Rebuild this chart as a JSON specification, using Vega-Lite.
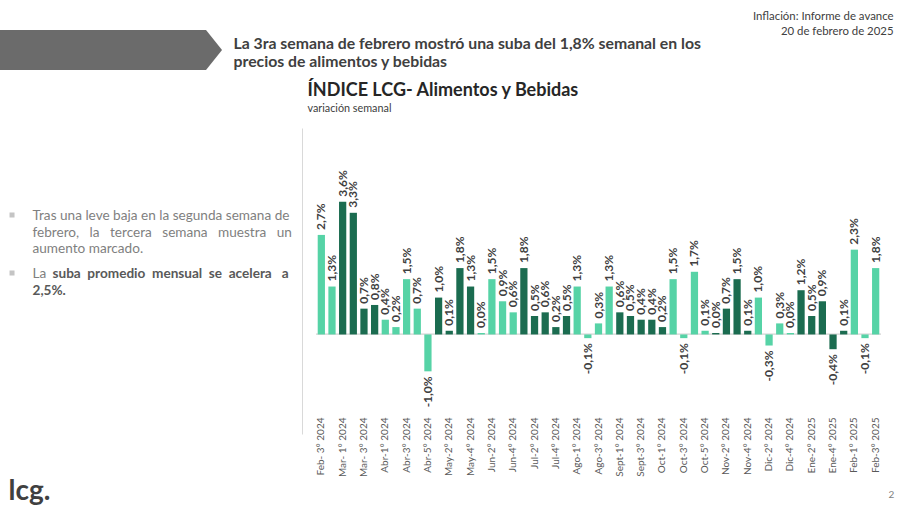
{
  "$schema": "https://vega.github.io/schema/vega-lite/v6.json",
  "width": 565,
  "height": 306,
  "autosize": {"type": "none"},
  "padding": {"left": 316, "top": 128, "right": 19, "bottom": 72},
  "background": "white",
  "config": {
    "view": {"stroke": null},
    "font": "Lato",
    "axis": {"domain": false, "ticks": false, "labels": false, "grid": false},
    "locale": {"number": {"decimal": ",", "thousands": ".", "grouping": [3], "currency": ["$", ""], "minus": "-"}}
  },
  "data": {
    "values": [
      {"cat": "Feb- 3° 2024", "v": 0.027, "g": "claro"},
      {"cat": "Feb- 4° 2024", "v": 0.013, "g": "claro"},
      {"cat": "Mar- 1° 2024", "v": 0.036, "g": "oscuro"},
      {"cat": "Mar- 2° 2024", "v": 0.033, "g": "oscuro"},
      {"cat": "Mar- 3° 2024", "v": 0.007, "g": "oscuro"},
      {"cat": "Mar- 4° 2024", "v": 0.008, "g": "oscuro"},
      {"cat": "Abr-1° 2024", "v": 0.004, "g": "claro"},
      {"cat": "Abr-2° 2024", "v": 0.002, "g": "claro"},
      {"cat": "Abr-3° 2024", "v": 0.015, "g": "claro"},
      {"cat": "Abr-4° 2024", "v": 0.007, "g": "claro"},
      {"cat": "Abr-5° 2024", "v": -0.010, "g": "claro"},
      {"cat": "May-1° 2024", "v": 0.010, "g": "oscuro"},
      {"cat": "May-2° 2024", "v": 0.001, "g": "oscuro"},
      {"cat": "May-3° 2024", "v": 0.018, "g": "oscuro"},
      {"cat": "May-4° 2024", "v": 0.013, "g": "oscuro"},
      {"cat": "Jun-1° 2024", "v": 0.0004, "g": "claro"},
      {"cat": "Jun-2° 2024", "v": 0.015, "g": "claro"},
      {"cat": "Jun-3° 2024", "v": 0.009, "g": "claro"},
      {"cat": "Jun-4° 2024", "v": 0.006, "g": "claro"},
      {"cat": "Jul-1° 2024", "v": 0.018, "g": "oscuro"},
      {"cat": "Jul-2° 2024", "v": 0.005, "g": "oscuro"},
      {"cat": "Jul-3° 2024", "v": 0.006, "g": "oscuro"},
      {"cat": "Jul-4° 2024", "v": 0.002, "g": "oscuro"},
      {"cat": "Jul-5° 2024", "v": 0.005, "g": "oscuro"},
      {"cat": "Ago-1° 2024", "v": 0.013, "g": "claro"},
      {"cat": "Ago-2° 2024", "v": -0.001, "g": "claro"},
      {"cat": "Ago-3° 2024", "v": 0.003, "g": "claro"},
      {"cat": "Ago-4° 2024", "v": 0.013, "g": "claro"},
      {"cat": "Sept-1° 2024", "v": 0.006, "g": "oscuro"},
      {"cat": "Sept-2° 2024", "v": 0.005, "g": "oscuro"},
      {"cat": "Sept-3° 2024", "v": 0.004, "g": "oscuro"},
      {"cat": "Sept-4° 2024", "v": 0.004, "g": "oscuro"},
      {"cat": "Oct-1° 2024", "v": 0.002, "g": "oscuro"},
      {"cat": "Oct-2° 2024", "v": 0.015, "g": "claro"},
      {"cat": "Oct-3° 2024", "v": -0.001, "g": "claro"},
      {"cat": "Oct-4° 2024", "v": 0.017, "g": "claro"},
      {"cat": "Oct-5° 2024", "v": 0.001, "g": "claro"},
      {"cat": "Nov-1° 2024", "v": 0.0004, "g": "oscuro"},
      {"cat": "Nov-2° 2024", "v": 0.007, "g": "oscuro"},
      {"cat": "Nov-3° 2024", "v": 0.015, "g": "oscuro"},
      {"cat": "Nov-4° 2024", "v": 0.001, "g": "oscuro"},
      {"cat": "Dic-1° 2024", "v": 0.010, "g": "claro"},
      {"cat": "Dic-2° 2024", "v": -0.003, "g": "claro"},
      {"cat": "Dic-3° 2024", "v": 0.003, "g": "claro"},
      {"cat": "Dic-4° 2024", "v": 0.0004, "g": "claro"},
      {"cat": "Ene-1° 2025", "v": 0.012, "g": "oscuro"},
      {"cat": "Ene-2° 2025", "v": 0.005, "g": "oscuro"},
      {"cat": "Ene-3° 2025", "v": 0.009, "g": "oscuro"},
      {"cat": "Ene-4° 2025", "v": -0.004, "g": "oscuro"},
      {"cat": "Ene-5° 2025", "v": 0.001, "g": "oscuro"},
      {"cat": "Feb-1° 2025", "v": 0.023, "g": "claro"},
      {"cat": "Feb-2° 2025", "v": -0.001, "g": "claro"},
      {"cat": "Feb-3° 2025", "v": 0.018, "g": "claro"}
    ]
  },
  "resolve": {"axis": {"x": "independent", "y": "independent"}},
  "layer": [
    {
      "mark": {"type": "rule", "color": "#dedede", "strokeWidth": 1},
      "encoding": {"y": {"datum": 0, "type": "quantitative", "axis": null}}
    },
    {
      "mark": {"type": "bar"},
      "encoding": {
        "x": {
          "field": "cat", "type": "nominal", "sort": null,
          "scale": {
            "paddingInner": 0.32, "paddingOuter": 0.16,
            "domain": ["Feb- 3° 2024","Feb- 4° 2024","Mar- 1° 2024","Mar- 2° 2024","Mar- 3° 2024","Mar- 4° 2024","Abr-1° 2024","Abr-2° 2024","Abr-3° 2024","Abr-4° 2024","Abr-5° 2024","May-1° 2024","May-2° 2024","May-3° 2024","May-4° 2024","Jun-1° 2024","Jun-2° 2024","Jun-3° 2024","Jun-4° 2024","Jul-1° 2024","Jul-2° 2024","Jul-3° 2024","Jul-4° 2024","Jul-5° 2024","Ago-1° 2024","Ago-2° 2024","Ago-3° 2024","Ago-4° 2024","Sept-1° 2024","Sept-2° 2024","Sept-3° 2024","Sept-4° 2024","Oct-1° 2024","Oct-2° 2024","Oct-3° 2024","Oct-4° 2024","Oct-5° 2024","Nov-1° 2024","Nov-2° 2024","Nov-3° 2024","Nov-4° 2024","Dic-1° 2024","Dic-2° 2024","Dic-3° 2024","Dic-4° 2024","Ene-1° 2025","Ene-2° 2025","Ene-3° 2025","Ene-4° 2025","Ene-5° 2025","Feb-1° 2025","Feb-2° 2025","Feb-3° 2025"]
          },
          "axis": {
            "orient": "bottom", "offset": -19, "labels": true, "labelAngle": -90, "labelPadding": 2,
            "labelFont": "Lato", "labelFontSize": 10, "labelColor": "#595959", "labelOverlap": false,
            "values": ["Feb- 3° 2024","Mar- 1° 2024","Mar- 3° 2024","Abr-1° 2024","Abr-3° 2024","Abr-5° 2024","May-2° 2024","May-4° 2024","Jun-2° 2024","Jun-4° 2024","Jul-2° 2024","Jul-4° 2024","Ago-1° 2024","Ago-3° 2024","Sept-1° 2024","Sept-3° 2024","Oct-1° 2024","Oct-3° 2024","Oct-5° 2024","Nov-2° 2024","Nov-4° 2024","Dic-2° 2024","Dic-4° 2024","Ene-2° 2025","Ene-4° 2025","Feb-1° 2025","Feb-3° 2025"],
            "title": "lcg.", "titleFont": "Lato", "titleFontSize": 28, "titleFontWeight": "bold", "titleColor": "#404040",
            "titleAngle": 0, "titleAlign": "left", "titleBaseline": "alphabetic", "titleX": -308, "titleY": 84
          }
        },
        "y": {
          "field": "v", "type": "quantitative",
          "scale": {"domain": [-0.027, 0.056], "nice": false, "zero": true},
          "axis": {
            "orient": "left", "offset": 14, "domain": true, "domainColor": "#d9d9d9", "domainWidth": 1,
            "title": ["Tras una leve baja en la segunda semana de", "febrero,\u00a0\u00a0 la\u00a0\u00a0 tercera\u00a0\u00a0 semana\u00a0\u00a0 muestra\u00a0\u00a0 un", "aumento marcado."],
            "titleFont": "Lato", "titleFontSize": 13.6, "titleFontWeight": "normal", "titleColor": "#7f7f7f",
            "titleAngle": 0, "titleAlign": "left", "titleBaseline": "alphabetic", "titleX": -270, "titleY": 91.5, "titleLineHeight": 16.5
          }
        },
        "color": {"field": "g", "type": "nominal", "scale": {"domain": ["claro", "oscuro"], "range": ["#56d3a6", "#1b6c50"]}, "legend": null}
      }
    },
    {
      "transform": [{"filter": "datum.v >= 0"}],
      "mark": {"type": "text", "angle": 270, "align": "left", "baseline": "middle", "dx": 5, "font": "Lato", "fontSize": 12, "fontWeight": "bold", "color": "#404040"},
      "encoding": {
        "x": {"field": "cat", "type": "nominal", "sort": null,
          "axis": {"orient": "top", "title": ["La 3ra semana de febrero mostró una suba del 1,8% semanal en los", "precios de alimentos y bebidas"],
            "titleFont": "Lato", "titleFontSize": 15.8, "titleFontWeight": "bold", "titleColor": "#404040",
            "titleAngle": 0, "titleAlign": "left", "titleBaseline": "alphabetic", "titleX": -83, "titleY": -79.5, "titleLineHeight": 17.5}},
        "y": {"field": "v", "type": "quantitative",
          "axis": {"orient": "left", "title": "La", "titleFont": "Lato", "titleFontSize": 13.6, "titleFontWeight": "normal", "titleColor": "#7f7f7f",
            "titleAngle": 0, "titleAlign": "left", "titleBaseline": "alphabetic", "titleX": -284, "titleY": 149.5}},
        "text": {"field": "v", "type": "quantitative", "format": ".1%"}
      }
    },
    {
      "transform": [{"filter": "datum.v < 0"}],
      "mark": {"type": "text", "angle": 270, "align": "right", "baseline": "middle", "dx": -5, "font": "Lato", "fontSize": 12, "fontWeight": "bold", "color": "#404040"},
      "encoding": {
        "x": {"field": "cat", "type": "nominal", "sort": null,
          "axis": {"orient": "top", "title": ["Inflación: Informe de avance", "20 de febrero de 2025"],
            "titleFont": "Lato", "titleFontSize": 11.4, "titleFontWeight": "normal", "titleColor": "#404040",
            "titleAngle": 0, "titleAlign": "right", "titleBaseline": "alphabetic", "titleX": 577, "titleY": -109, "titleLineHeight": 15}},
        "y": {"field": "v", "type": "quantitative",
          "axis": {"orient": "left", "title": "suba\u00a0 promedio\u00a0 mensual\u00a0 se\u00a0 acelera\u00a0\u00a0 a", "titleFont": "Lato", "titleFontSize": 13.6, "titleFontWeight": "bold", "titleColor": "#595959",
            "titleAngle": 0, "titleAlign": "left", "titleBaseline": "alphabetic", "titleX": -264, "titleY": 149.5}},
        "text": {"field": "v", "type": "quantitative", "format": ".1%"}
      }
    },
    {
      "transform": [{"filter": "datum.cat === 'Feb- 3° 2024'"}],
      "mark": {"type": "point", "shape": "M-322,-204.9L-115.3,-204.9L-99.3,-184.9L-115.3,-164.9L-322,-164.9Z", "size": 4, "filled": true, "color": "#6b6b6b", "opacity": 1, "strokeWidth": 0},
      "encoding": {
        "x": {"field": "cat", "type": "nominal", "sort": null,
          "axis": {"orient": "top", "title": "ÍNDICE LCG- Alimentos y Bebidas", "titleFont": "Lato", "titleFontSize": 18, "titleFontWeight": "bold", "titleColor": "#262626",
            "titleAngle": 0, "titleAlign": "left", "titleBaseline": "alphabetic", "titleX": -9, "titleY": -33}},
        "y": {"field": "v", "type": "quantitative",
          "axis": {"orient": "left", "title": "2,5%.", "titleFont": "Lato", "titleFontSize": 13.6, "titleFontWeight": "bold", "titleColor": "#595959",
            "titleAngle": 0, "titleAlign": "left", "titleBaseline": "alphabetic", "titleX": -284, "titleY": 166.5}}
      }
    },
    {
      "transform": [{"filter": "datum.cat === 'Feb- 3° 2024'"}],
      "mark": {"type": "point", "shape": "M-311.8,-22.4h5v5h-5zM-311.8,35.6h5v5h-5z", "size": 4, "filled": true, "color": "#c4c4c4", "opacity": 1, "strokeWidth": 0},
      "encoding": {
        "x": {"field": "cat", "type": "nominal", "sort": null,
          "axis": {"orient": "top", "title": "variación semanal", "titleFont": "Lato", "titleFontSize": 10.8, "titleFontWeight": "normal", "titleColor": "#404040",
            "titleAngle": 0, "titleAlign": "left", "titleBaseline": "alphabetic", "titleX": -9, "titleY": -17}},
        "y": {"field": "v", "type": "quantitative",
          "axis": {"orient": "left", "title": "2", "titleFont": "Lato", "titleFontSize": 10, "titleFontWeight": "normal", "titleColor": "#7f7f7f",
            "titleAngle": 0, "titleAlign": "left", "titleBaseline": "alphabetic", "titleX": 572, "titleY": 369}}
      }
    }
  ]
}
